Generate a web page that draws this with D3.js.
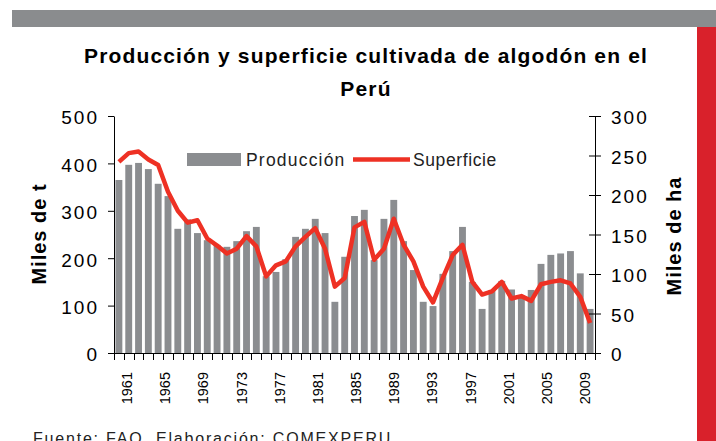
<!DOCTYPE html>
<html><head><meta charset="utf-8">
<script src="https://cdn.jsdelivr.net/npm/d3@7/dist/d3.min.js"></script>
<style>
body{margin:0;background:#fff;}
svg{display:block;font-family:"Liberation Sans",Arial,Helvetica,sans-serif;}
</style>
</head><body>
<svg id="chart" width="716" height="441"></svg>
<script>
const years = [1961,1962,1963,1964,1965,1966,1967,1968,1969,1970,1971,1972,1973,1974,1975,1976,1977,1978,1979,1980,
1981,1982,1983,1984,1985,1986,1987,1988,1989,1990,1991,1992,1993,1994,1995,1996,1997,1998,1999,2000,
2001,2002,2003,2004,2005,2006,2007,2008,2009];
const produccion = [365,397,401,388,357,331,262,282,253,238,228,224,236,
257,266,162,171,198,245,262,283,253,108,203,289,
302,196,283,323,236,175,108,99,167,215,266,150,93,
133,152,134,118,133,188,207,210,215,168,93];
const superficie = [242,253,255,245,238,204,180,165,168,145,136,126,132,
148,135,97,111,116,135,147,158,132,84,95,159,
166,118,132,170,137,116,84,64,95,124,137,90,74,
78,90,69,72,66,87,90,92,88,71,38];
const labelYears = [1961,1965,1969,1973,1977,1981,1985,1989,1993,1997,2001,2005,2009];
const leftTicks = [0,100,200,300,400,500];
const rightTicks = [0,50,100,150,200,250,300];
const title1 = "Producción y superficie cultivada de algodón en el";
const title2 = "Perú";

const svg = d3.select("#chart");
const L = 114, R = 595, T = 116, B = 353;
const barColor = "#8b8d90", lineColor = "#ee3124";

// decorations
svg.append("rect").attr("x",12).attr("y",10).attr("width",704).attr("height",17).attr("fill","#8a8c8e");
svg.append("rect").attr("x",697).attr("y",27).attr("width",19).attr("height",414).attr("fill","#d9212b");

const x = d3.scaleBand().domain(years).range([L,R]).paddingInner(0.3).paddingOuter(0.15);
const yL = d3.scaleLinear().domain([0,500]).range([B,T]);
const yR = d3.scaleLinear().domain([0,300]).range([B,T]);

// bars
svg.append("g").selectAll("rect").data(years).join("rect")
  .attr("x",d=>x(d)).attr("width",x.bandwidth())
  .attr("y",(d,i)=>yL(produccion[i])).attr("height",(d,i)=>B-yL(produccion[i]))
  .attr("fill",barColor);

// line
const line = d3.line().x((d,i)=>x(years[i])+x.bandwidth()/2).y(d=>yR(d));
svg.append("path").datum(superficie).attr("d",line).attr("fill","none")
  .attr("stroke",lineColor).attr("stroke-width",4.5).attr("stroke-linejoin","round");

// left axis
const gL = svg.append("g").attr("transform",`translate(${L},0)`)
  .call(d3.axisLeft(yL).tickValues(leftTicks).tickSize(6).tickPadding(9).tickSizeOuter(0));
gL.select(".domain").attr("stroke","#000");
gL.selectAll(".tick line").attr("stroke","#000");
gL.selectAll(".tick text").attr("font-size",19).attr("letter-spacing","2px").attr("fill","#000")
  .attr("font-family","Liberation Sans, Arial, sans-serif").attr("dy","0.42em");

// right axis
const gR = svg.append("g").attr("transform",`translate(${R},0)`)
  .call(d3.axisRight(yR).tickValues(rightTicks).tickSize(6).tickPadding(10).tickSizeOuter(0));
gR.select(".domain").attr("stroke","#000");
gR.selectAll(".tick line").attr("stroke","#000").attr("x1",-6);
gR.selectAll(".tick text").attr("font-size",19).attr("letter-spacing","2px").attr("fill","#000")
  .attr("font-family","Liberation Sans, Arial, sans-serif").attr("dy","0.42em");

// bottom axis
const step = x.step();
const gB = svg.append("g");
gB.append("line").attr("x1",L).attr("x2",R).attr("y1",B+0.5).attr("y2",B+0.5).attr("stroke","#000");
const bounds = years.map(d=>x(d)-step*x.paddingInner()/2).concat([R]);
gB.selectAll("line.t").data(bounds).join("line").attr("class","t")
  .attr("x1",d=>Math.round(d)+0.5).attr("x2",d=>Math.round(d)+0.5)
  .attr("y1",B).attr("y2",B+7).attr("stroke","#000");
const i0 = years.indexOf(labelYears[0]), i1 = years.indexOf(labelYears[labelYears.length-1]);
const lx = d3.scaleLinear().domain([i0,i1])
  .range([x(labelYears[0])+x.bandwidth()/2+8, x(labelYears[labelYears.length-1])+x.bandwidth()/2-5]);
gB.selectAll("text").data(labelYears).join("text")
  .attr("transform",d=>`translate(${lx(years.indexOf(d))},372) rotate(-90)`)
  .attr("text-anchor","end").attr("dy","0.35em").attr("font-size",14.5).attr("fill","#000")
  .text(d=>d);

// axis titles
svg.append("text").attr("transform","translate(46,234) rotate(-90)")
  .attr("text-anchor","middle").attr("font-weight","bold").attr("font-size",20)
  .attr("letter-spacing","1px").attr("fill","#000").text("Miles de t");
svg.append("text").attr("transform","translate(681,236) rotate(-90)")
  .attr("text-anchor","middle").attr("font-weight","bold").attr("font-size",20)
  .attr("letter-spacing","1px").attr("fill","#000").text("Miles de ha");

// title
svg.append("text").attr("x",366).attr("y",63).attr("text-anchor","middle")
  .attr("font-weight","bold").attr("font-size",21).attr("letter-spacing","1.15px").attr("fill","#000").text(title1);
svg.append("text").attr("x",366).attr("y",96).attr("text-anchor","middle")
  .attr("font-weight","bold").attr("font-size",21).attr("letter-spacing","1.15px").attr("fill","#000").text(title2);

// legend
const lg = svg.append("g");
lg.append("rect").attr("x",187).attr("y",153).attr("width",54).attr("height",13).attr("fill",barColor);
lg.append("text").attr("x",246).attr("y",166).attr("font-size",17.5).attr("letter-spacing","1.2px")
  .attr("fill","#222").text("Producción");
lg.append("line").attr("x1",353).attr("x2",410).attr("y1",159.5).attr("y2",159.5)
  .attr("stroke",lineColor).attr("stroke-width",4.5);
lg.append("text").attr("x",413).attr("y",166).attr("font-size",17.5).attr("letter-spacing","0.6px")
  .attr("fill","#222").text("Superficie");

// source
svg.append("text").attr("x",33).attr("y",444).attr("font-size",16).attr("letter-spacing","1.8px")
  .attr("fill","#222").text("Fuente: FAO. Elaboración: COMEXPERU");
</script>
</body></html>
